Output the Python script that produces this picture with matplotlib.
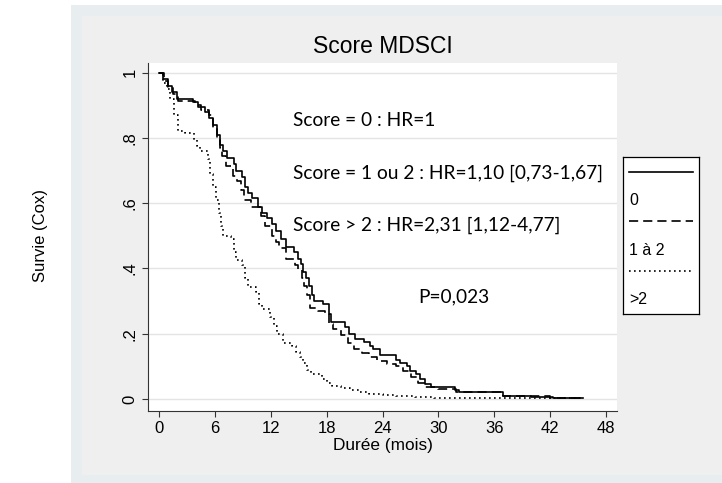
import numpy as np
import matplotlib.pyplot as plt
from matplotlib.patches import Rectangle
from matplotlib.lines import Line2D

# survival steps (months, S(t)) per MDSCI score group
t_0 = [0, 0.4, 0.9, 1.4, 1.9, 3.6, 4.2, 4.9, 5.4, 5.8, 6.2, 6.5, 6.9, 7.3, 8.0, 8.3, 8.9, 9.2, 9.5,
       10.0, 10.6, 11.0, 11.6, 12.1, 12.6, 13.1, 13.6, 14.5, 14.9, 15.2, 15.5, 15.8, 16.1, 16.4, 16.6,
       17.6, 18.3, 18.5, 20.0, 20.4, 21.0, 22.0, 22.7, 23.0, 23.7, 25.5, 25.9, 26.6, 27.0, 27.6, 28.0,
       28.6, 29.2, 31.8, 32.2, 37.0, 40.0, 42.3, 45.5]
s_0 = [1.0, 0.98, 0.96, 0.94, 0.92, 0.91, 0.895, 0.88, 0.86, 0.84, 0.81, 0.78, 0.76, 0.74, 0.72, 0.70,
       0.68, 0.65, 0.63, 0.615, 0.59, 0.57, 0.555, 0.535, 0.515, 0.49, 0.465, 0.45, 0.43, 0.415, 0.39,
       0.37, 0.345, 0.32, 0.30, 0.29, 0.26, 0.235, 0.22, 0.20, 0.185, 0.175, 0.163, 0.153, 0.135, 0.12,
       0.11, 0.10, 0.087, 0.075, 0.06, 0.045, 0.036, 0.028, 0.02, 0.01, 0.006, 0.002, 0.002]

t_12 = [0, 0.5, 1.0, 1.5, 2.0, 3.8, 4.5, 5.4, 5.8, 6.2, 6.5, 6.7, 7.2, 7.9, 8.4, 8.8, 9.1, 9.9, 10.9,
        11.4, 12.1, 12.6, 12.9, 13.6, 14.6, 14.9, 15.3, 15.6, 15.9, 16.2, 17.1, 17.8, 18.3, 18.7, 19.5,
        20.3, 20.9, 21.8, 22.5, 23.4, 24.5, 25.5, 26.2, 27.1, 27.8, 28.6, 30.0, 31.9, 37.0, 42.0, 45.5]
s_12 = [1.0, 0.975, 0.955, 0.935, 0.913, 0.90, 0.885, 0.87, 0.83, 0.796, 0.77, 0.745, 0.714, 0.684,
        0.668, 0.64, 0.61, 0.59, 0.56, 0.53, 0.50, 0.48, 0.464, 0.43, 0.41, 0.398, 0.37, 0.347, 0.32,
        0.28, 0.27, 0.262, 0.23, 0.214, 0.195, 0.17, 0.153, 0.14, 0.128, 0.117, 0.108, 0.10, 0.087,
        0.067, 0.05, 0.036, 0.03, 0.02, 0.01, 0.003, 0.002]

t_gt2 = [0, 0.4, 0.8, 1.2, 1.6, 2.0, 2.8, 3.7, 4.1, 4.4, 5.2, 5.5, 5.8, 6.1, 6.4, 6.6, 6.9, 7.7, 8.0,
         8.3, 8.9, 9.2, 9.5, 10.4, 10.7, 11.0, 11.9, 12.3, 12.7, 13.3, 14.3, 14.7, 15.1, 15.5, 15.9,
         16.3, 17.5, 18.0, 18.6, 19.5, 20.5, 21.5, 22.5, 24.0, 25.5, 27.5, 29.5, 45.5]
s_gt2 = [1.0, 0.97, 0.95, 0.92, 0.87, 0.82, 0.815, 0.795, 0.775, 0.76, 0.735, 0.69, 0.65, 0.61, 0.57,
         0.53, 0.50, 0.49, 0.45, 0.425, 0.41, 0.37, 0.342, 0.327, 0.29, 0.275, 0.25, 0.225, 0.20, 0.173,
         0.163, 0.145, 0.13, 0.11, 0.09, 0.075, 0.06, 0.05, 0.04, 0.032, 0.026, 0.02, 0.015, 0.011,
         0.008, 0.005, 0.002, 0.002]

groups = ['0', '1 à 2', '>2']
notes = ['Score = 0 : HR=1',
         'Score = 1 ou 2 : HR=1,10 [0,73-1,67]',
         'Score > 2 : HR=2,31 [1,12-4,77]']
p_text = 'P=0,023'
xticks = [0, 6, 12, 18, 24, 30, 36, 42, 48]
yticks = [0, 0.2, 0.4, 0.6, 0.8, 1.0]
ytick_labels = ['0', '.2', '.4', '.6', '.8', '1']

sans = ['Liberation Sans', 'DejaVu Sans']
calib = ['Lato', 'DejaVu Sans']

fig = plt.figure(figsize=(7.22, 4.83), dpi=100)
fig.patch.set_facecolor('white')

# stata-style graph region: blue-grey border around a light grey panel
W, H = 722, 483
fig.patches.append(Rectangle((71 / W, 0), 1 - 71 / W, 1 - 5 / H, transform=fig.transFigure,
                             facecolor='#e8eef0', edgecolor='none', zorder=-2))
fig.patches.append(Rectangle((82 / W, 8 / H), 1 - 82 / W, 1 - 24 / H, transform=fig.transFigure,
                             facecolor='#efefef', edgecolor='none', zorder=-1))

ax = fig.add_axes([148 / W, 1 - 411 / H, (617 - 148) / W, (411 - 63) / H])
ax.set_facecolor('white')

styles = ['-', (0, (5.5, 3)), (0, (1, 2))]
for (t, s), ls in zip([(t_0, s_0), (t_12, s_12), (t_gt2, s_gt2)], styles):
    ax.step(t, s, where='post', color='black', lw=1.2, linestyle=ls)

ax.set_xlim(-1.2, 49.2)
ax.set_ylim(-0.037, 1.03)
ax.set_xticks(xticks)
ax.set_xticklabels([str(v) for v in xticks], family=sans, fontsize=12)
ax.set_yticks(yticks)
ax.set_yticklabels(ytick_labels, family=sans, fontsize=12, rotation=90, va='center')
ax.tick_params(axis='both', length=4.5, width=0.8, color='#333333', pad=3)
ax.tick_params(axis='y', pad=3)
ax.grid(axis='y', color='#e4e4e4', lw=1)
ax.set_axisbelow(True)
for side in ['top', 'right']:
    ax.spines[side].set_visible(False)
for side in ['left', 'bottom']:
    ax.spines[side].set_color('#333333')
    ax.spines[side].set_linewidth(0.8)

ax.set_title('Score MDSCI', family=sans, fontsize=16.5, pad=7)
ax.set_xlabel('Durée (mois)', family=sans, fontsize=12.4, labelpad=1)
fig.text(40 / W, 1 - 236 / H, 'Survie (Cox)', family=sans, fontsize=12, rotation=90,
         ha='center', va='center')

for i, note in enumerate(notes):
    ax.text(14.4, 0.853 - i * 0.16, note, family=calib, fontsize=13.8, ha='left', va='center')
ax.text(27.8, 0.312, p_text, family=calib, fontsize=13.8, ha='left', va='center')

# legend box drawn to the right of the plot
lax = fig.add_axes([623 / W, 1 - 314 / H, (699 - 623) / W, (314 - 157) / H])
lax.set_xlim(0, 1)
lax.set_ylim(1, 0)
lax.set_xticks([])
lax.set_yticks([])
lax.set_facecolor('white')
for sp in lax.spines.values():
    sp.set_linewidth(0.9)
for i, (lab, ls) in enumerate(zip(groups, styles)):
    y0 = 0.095 + i * 0.315
    lax.add_line(Line2D([0.08, 0.92], [y0, y0], color='black', lw=1.2, linestyle=ls))
    lax.text(0.08, y0 + 0.185, lab, family=sans, fontsize=11.5, ha='left', va='center')

fig.savefig('out.png', dpi=100)
